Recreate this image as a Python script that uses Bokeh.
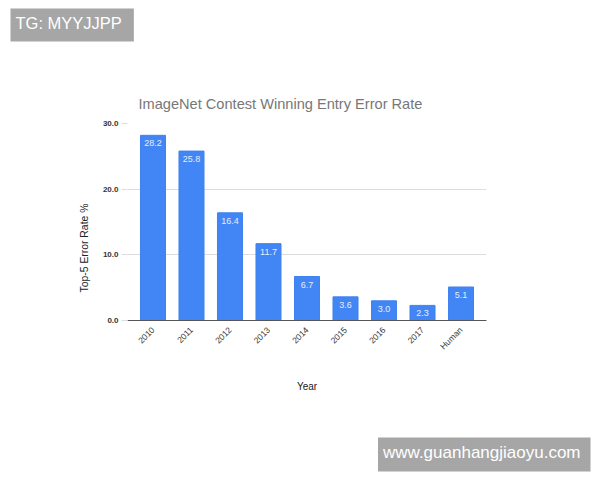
import math
from bokeh.plotting import figure
from bokeh.models import ColumnDataSource, LabelSet, Title, FixedTicker, NumeralTickFormatter
from bokeh.core.properties import value
from bokeh.embed import file_html
from bokeh.resources import INLINE

categories = ["2010", "2011", "2012", "2013", "2014", "2015", "2016", "2017", "Human"]
error_rates = [28.2, 25.8, 16.4, 11.7, 6.7, 3.6, 3.0, 2.3, 5.1]
y_ticks = [0, 10, 20, 30]

FONT = "Liberation Sans"
W, H = 600, 480

src = ColumnDataSource(dict(cat=categories, val=error_rates,
                            txt=[f"{v:.1f}" for v in error_rates]))

p = figure(x_range=categories, y_range=(0, 30), width=W, height=H, title=None,
           output_backend="svg", toolbar_location=None,
           min_border_left=127, min_border_right=W - 486,
           min_border_top=123, min_border_bottom=H - 320)
p.x_range.range_padding = 0.036
p.outline_line_color = None
p.background_fill_color = "white"
p.border_fill_color = "white"

p.vbar(x="cat", top="val", width=0.65, source=src,
       fill_color="#4285F4", line_color="#3f82f0", line_width=1)

labels = LabelSet(x="cat", y="val", text="txt", source=src,
                  text_align="center", text_baseline="top", y_offset=-5,
                  text_color="#e6eefc", text_font_size="9px",
                  text_font=value(FONT))
p.add_layout(labels)

# grid
p.xgrid.grid_line_color = None
p.ygrid.grid_line_color = "#dddddd"
p.ygrid.ticker = FixedTicker(ticks=y_ticks)

# y axis
p.yaxis.ticker = FixedTicker(ticks=y_ticks)
p.yaxis.formatter = NumeralTickFormatter(format="0.0")
p.yaxis.axis_line_color = None
p.yaxis.major_tick_line_color = "#dddddd"
p.yaxis.major_tick_out = 6
p.yaxis.major_tick_in = 0
p.yaxis.minor_tick_line_color = None
p.yaxis.major_label_text_font = FONT
p.yaxis.major_label_text_font_size = "8px"
p.yaxis.major_label_text_font_style = "bold"
p.yaxis.major_label_text_color = "#333333"
p.yaxis.major_label_standoff = 3

# y axis title (as a side title so it can sit lower, as in the reference)
ytitle = Title(text="Top-5 Error Rate %", align="left", offset=28, standoff=20,
               text_font=FONT, text_font_size="10.4px", text_font_style="normal",
               text_color="#222222")
p.add_layout(ytitle, "left")

# x axis
p.xaxis.axis_line_color = "#555555"
p.xaxis.axis_line_width = 1
p.xaxis.major_tick_line_color = None
p.xaxis.minor_tick_line_color = None
p.xaxis.major_label_orientation = math.pi / 4
p.xaxis.major_label_text_font = FONT
p.xaxis.major_label_text_font_size = "8.5px"
p.xaxis.major_label_text_color = "#333333"
p.xaxis.major_label_standoff = 2
p.xaxis.axis_label = "Year"
p.xaxis.axis_label_text_font = FONT
p.xaxis.axis_label_text_font_size = "10px"
p.xaxis.axis_label_text_font_style = "normal"
p.xaxis.axis_label_text_color = "#222222"
p.xaxis.axis_label_standoff = 23

# titles stacked above the frame (first = nearest)
main_title = Title(text="ImageNet Contest Winning Entry Error Rate", align="left",
                   offset=11, standoff=23, text_font=FONT, text_font_size="14.6px",
                   text_font_style="normal", text_color="#777777")
spacer_top = Title(text=" ", standoff=28, text_font=FONT, text_font_size="10px",
                   text_color="white")
wm1 = Title(text="TG: MYYJJPP", align="left", offset=-117, standoff=0,
            text_font=FONT, text_font_size="16.5px", text_font_style="normal",
            text_color="white", background_fill_color="#a6a6a6",
            padding=(5, 12, 5, 10))
p.add_layout(main_title, "above")
p.add_layout(spacer_top, "above")
p.add_layout(wm1, "above")

spacer_bot = Title(text=" ", standoff=28, text_font=FONT, text_font_size="10px",
                   text_color="white")
wm2 = Title(text="www.guanhangjiaoyu.com", align="right", offset=-104, standoff=0,
            text_font=FONT, text_font_size="17px", text_font_style="normal",
            text_color="white", background_fill_color="#a6a6a6",
            padding=(5, 10, 5, 10))
p.add_layout(spacer_bot, "below")
p.add_layout(wm2, "below")

open("out.html", "w").write(file_html(p, INLINE))
